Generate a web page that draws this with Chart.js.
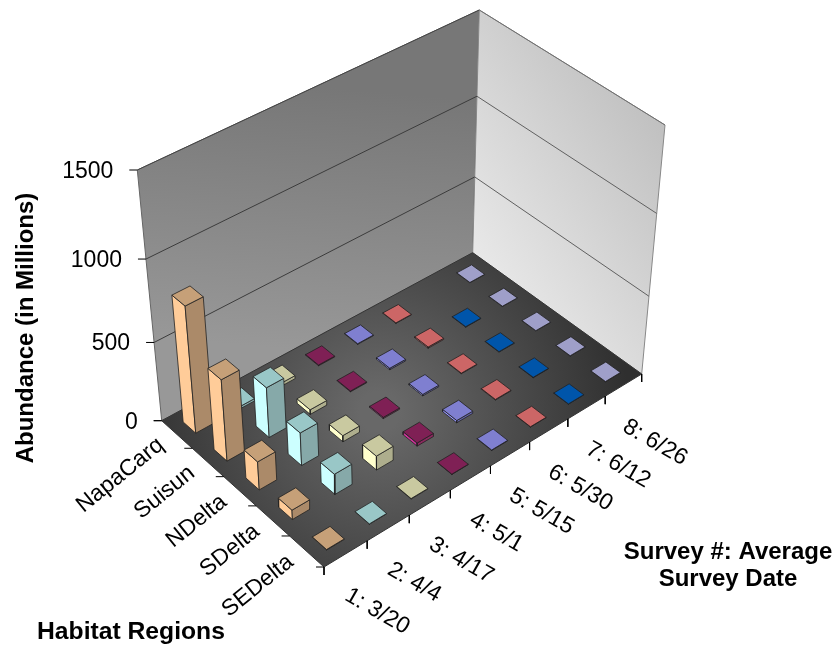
<!DOCTYPE html>
<html>
<head>
<meta charset="utf-8">
<title>Abundance by habitat region and survey</title>
<script src="https://cdn.jsdelivr.net/npm/chart.js@4/dist/chart.umd.min.js"></script>
<style>
  html, body { margin: 0; padding: 0; background: #fff; }
  canvas { display: block; }
</style>
</head>
<body>
<canvas id="abundanceChart" width="838" height="648"></canvas>
<script>
// Chart values
const regions = ["NapaCarq", "Suisun", "NDelta", "SDelta", "SEDelta"];
const surveys = ["1: 3/20", "2: 4/4", "3: 4/17", "4: 5/1", "5: 5/15", "6: 5/30", "7: 6/12", "8: 6/26"];
const valueTicks = [0, 500, 1000, 1500];

// one array per survey, in the order of regions
const survey1 = [795, 515, 180, 60, 3];
const survey2 = [15, 320, 210, 130, 2];
const survey3 = [20, 30, 40, 90, 3];
const survey4 = [5, 5, 8, 20, 2];
const survey5 = [4, 10, 10, 15, 3];
const survey6 = [3, 8, 4, 4, 2];
const survey7 = [null, 3, 3, 3, 2];
const survey8 = [2, 2, 2, 2, 2];
const allSurveys = [survey1, survey2, survey3, survey4, survey5, survey6, survey7, survey8];

// [side, top, shaded side]
const surveyColors = [
  ["#FFCC99", "#C6A078", "#AB8A69"],
  ["#CCFFFF", "#99C7C7", "#86A9A9"],
  ["#FFFFCC", "#C9C9A0", "#AEAE8D"],
  ["#CC3399", "#7F2055", "#8A2A5E"],
  ["#9999FF", "#7F7FD0", "#6666AA"],
  ["#FF8080", "#CC6666", "#A85555"],
  ["#0066CC", "#0055AA", "#004488"],
  ["#CCCCFF", "#9F9FC9", "#8888AA"]
];

const maxValue = valueTicks[valueTicks.length - 1];
const barWidth = 0.41;

// Box corners on the page: floor and top of the walls
const floorQuad = [[161.7, 420.7], [472.7, 252.7], [641.7, 374], [324, 567]];
const topQuad = [[137.3, 170], [479.3, 10], [665, 125], [315.5, 309]];

function homography(q) {
  const [p0, p1, p2, p3] = q;
  const dx1 = p1[0] - p2[0], dx2 = p3[0] - p2[0], sx = p0[0] - p1[0] + p2[0] - p3[0];
  const dy1 = p1[1] - p2[1], dy2 = p3[1] - p2[1], sy = p0[1] - p1[1] + p2[1] - p3[1];
  const den = dx1 * dy2 - dx2 * dy1;
  const g = (sx * dy2 - dx2 * sy) / den, h = (dx1 * sy - sx * dy1) / den;
  const a = p1[0] - p0[0] + g * p1[0], b = p3[0] - p0[0] + h * p3[0];
  const d = p1[1] - p0[1] + g * p1[1], e = p3[1] - p0[1] + h * p3[1];
  return (u, v) => {
    const w = g * u + h * v + 1;
    return [(a * u + b * v + p0[0]) / w, (d * u + e * v + p0[1]) / w];
  };
}
const floorAt = homography(floorQuad);
const topAt = homography(topQuad);

// u runs along the surveys, v along the regions, value is the height
function project(u, v, value) {
  const t = value / maxValue;
  const f = t / (1 + 0.102 * (1 - t));
  const a = floorAt(u, v), b = topAt(u, v);
  return { x: a[0] + f * (b[0] - a[0]), y: a[1] + f * (b[1] - a[1]) };
}

const canvas = document.getElementById("abundanceChart");
const ctx = canvas.getContext("2d");

function gradient(p0, p1, c0, c1) {
  const g = ctx.createLinearGradient(p0.x, p0.y, p1.x, p1.y);
  g.addColorStop(0, c0);
  g.addColorStop(1, c1);
  return g;
}

const datasets = [];
function face(points, fillColor, lineColor, lineWidth) {
  datasets.push({
    data: points.concat([points[0]]),
    showLine: true,
    fill: "shape",
    backgroundColor: fillColor,
    borderColor: lineColor,
    borderWidth: lineWidth,
    pointRadius: 0,
    tension: 0
  });
}
function line(a, b, color, width) {
  datasets.push({
    data: [a, b],
    showLine: true,
    fill: false,
    borderColor: color,
    borderWidth: width,
    pointRadius: 0
  });
}

// Walls and floor
const leftWallFill = gradient(project(0.5, 0, maxValue), project(0.4, 0, 0), "#777777", "#989898");
const rightWallFill = gradient(project(1, 1, maxValue), project(1, 0, 0), "#C0C0C0", "#E8E8E8");
const floorCentre = project(0.42, 0.5, 0);
const floorFill = ctx.createRadialGradient(floorCentre.x, floorCentre.y, 20, floorCentre.x, floorCentre.y, 250);
floorFill.addColorStop(0, "#686868");
floorFill.addColorStop(1, "#2F2F2F");

face([project(0, 0, 0), project(1, 0, 0), project(1, 0, maxValue), project(0, 0, maxValue)], leftWallFill, "#666666", 1);
face([project(1, 0, 0), project(1, 1, 0), project(1, 1, maxValue), project(1, 0, maxValue)], rightWallFill, "#888888", 1);
face([project(0, 0, 0), project(1, 0, 0), project(1, 1, 0), project(0, 1, 0)], floorFill, "#333333", 1);

// Grid lines on the walls
valueTicks.slice(1, -1).forEach(tick => {
  line(project(0, 0, tick), project(1, 0, tick), "#3C3C3C", 1);
  line(project(1, 0, tick), project(1, 1, tick), "#606060", 1);
});
line(project(0, 0, maxValue), project(1, 0, maxValue), "#444444", 1);
line(project(1, 0, maxValue), project(1, 1, maxValue), "#707070", 1);

// Tick marks
function tickMark(p, dx, dy) {
  line(p, { x: p.x + dx, y: p.y + dy }, "#000000", 1);
}
valueTicks.forEach(tick => tickMark(project(0, 0, tick), -8, 0));
regions.concat([""]).forEach((r, j) => tickMark(project(0, j / regions.length, 0), -8, 0));
surveys.concat([""]).forEach((s, i) => tickMark(project(i / surveys.length, 1, 0), 0, 8));

// Bars, far ones first
for (let i = surveys.length - 1; i >= 0; i--) {
  for (let j = 0; j < regions.length; j++) {
    const value = allSurveys[i][j];
    if (value === null) continue;
    const uc = (i + 0.5) / surveys.length, vc = (j + 0.5) / regions.length;
    const du = barWidth / 2 / surveys.length, dv = barWidth / 2 / regions.length;
    const [side, top, shade] = surveyColors[i];
    const u0 = uc - du, u1 = uc + du, v0 = vc - dv, v1 = vc + dv;
    face([project(u0, v0, 0), project(u0, v1, 0), project(u0, v1, value), project(u0, v0, value)], side, "#222222", 0.8);
    face([project(u0, v1, 0), project(u1, v1, 0), project(u1, v1, value), project(u0, v1, value)], shade, "#222222", 0.8);
    face([project(u0, v0, value), project(u1, v0, value), project(u1, v1, value), project(u0, v1, value)], top, "#222222", 0.8);
  }
}
// earlier datasets must paint first
datasets.forEach((d, n) => { d.order = datasets.length - n; });

const axisText = {
  id: "axisText",
  afterDraw(chart) {
    const c = chart.ctx;
    const sx = chart.scales.x, sy = chart.scales.y;
    const px = p => ({ x: sx.getPixelForValue(p.x), y: sy.getPixelForValue(p.y) });
    function text(str, x, y, angle, align, font) {
      c.save();
      c.translate(x, y);
      c.rotate(angle * Math.PI / 180);
      c.textAlign = align;
      c.textBaseline = "middle";
      c.font = font;
      c.fillStyle = "#000";
      c.fillText(str, 0, 0);
      c.restore();
    }
    const tickFont = "23px 'Liberation Sans'";
    const titleFont = "bold 24px 'Liberation Sans'";
    valueTicks.forEach(tick => {
      const p = px(project(0, 0, tick));
      text(String(tick), p.x - 24, p.y + 1.5, 0, "right", tickFont);
    });
    regions.forEach((r, j) => {
      const p = px(project(0, (j + 0.5) / regions.length, 0));
      text(r, p.x - 16, p.y + 8, -39, "right", tickFont);
    });
    surveys.forEach((s, i) => {
      const p = px(project((i + 0.5) / surveys.length, 1, 0));
      text(s, p.x + 1, p.y + 40, 30, "left", tickFont);
    });
    text("Abundance (in Millions)", 26, 328, -90, "center", titleFont);
    text("Habitat Regions", 37, 632, 0, "left", "bold 24.7px 'Liberation Sans'");
    text("Survey #: Average", 728, 552, 0, "center", titleFont);
    text("Survey Date", 728, 579, 0, "center", titleFont);
  }
};

new Chart(ctx, {
  type: "scatter",
  data: { datasets },
  plugins: [axisText],
  options: {
    responsive: false,
    animation: false,
    layout: { padding: 0 },
    plugins: { legend: { display: false }, tooltip: { enabled: false } },
    scales: {
      x: { type: "linear", min: 0, max: 838, display: false },
      y: { type: "linear", min: 0, max: 648, reverse: true, display: false }
    }
  }
});
</script>
</body>
</html>
